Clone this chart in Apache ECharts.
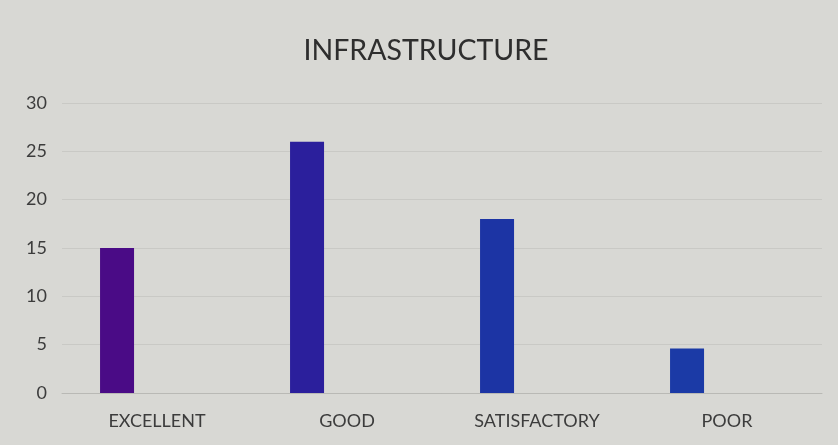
<!DOCTYPE html>
<html>
<head>
<meta charset="utf-8">
<script src="https://cdn.jsdelivr.net/npm/echarts@6/dist/echarts.min.js"></script>
<style>
html,body{margin:0;padding:0;background:#d8d8d4;}
#chart{width:838px;height:445px;}
</style>
</head>
<body>
<div id="chart"></div>
<script>
const titleText = 'INFRASTRUCTURE';
const categories = ['EXCELLENT', 'GOOD', 'SATISFACTORY', 'POOR'];
const values = [15, 26, 18, 4.6];
const barColors = ['#4a0b86', '#2b1f9c', '#1c34a4', '#1b3aa6'];
const yTicks = [0, 5, 10, 15, 20, 25, 30];

const chart = echarts.init(document.getElementById('chart'));
chart.setOption({
  backgroundColor: '#d8d8d4',
  animation: false,
  title: {
    text: titleText,
    left: 421,
    textAlign: 'center',
    top: 31,
    textStyle: { fontFamily: 'Lato', fontWeight: 'normal', fontSize: 28.5, color: '#2e2e2e' }
  },
  grid: { left: 62, right: 16, top: 103, bottom: 52 },
  xAxis: {
    type: 'category',
    data: categories,
    axisLine: { show: true, lineStyle: { color: '#b9b9b5', width: 1 } },
    axisTick: { show: false },
    axisLabel: { margin: 19, fontFamily: 'Lato', fontSize: 18, color: '#3c3c3c' }
  },
  yAxis: {
    type: 'value',
    min: yTicks[0],
    max: yTicks[yTicks.length - 1],
    interval: 5,
    axisLine: { show: false },
    axisTick: { show: false },
    axisLabel: { margin: 15, fontFamily: 'Lato', fontSize: 18, color: '#3c3c3c' },
    splitLine: { lineStyle: { color: '#c9c9c5', width: 1 } }
  },
  series: [
    {
      type: 'bar',
      name: 'Count',
      barWidth: 34,
      barGap: '135%',
      data: values.map((v, i) => ({ value: v, itemStyle: { color: barColors[i] } }))
    },
    {
      type: 'bar',
      name: '',
      barWidth: 34,
      data: categories.map(() => null)
    }
  ]
});
</script>
</body>
</html>
